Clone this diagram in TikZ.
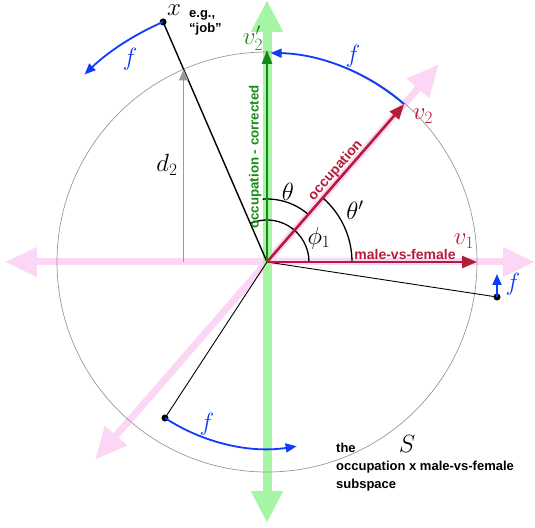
\documentclass[tikz,border=0pt]{standalone}
\usepackage{fontspec}
\newfontfamily\lab{Liberation Sans}
\usetikzlibrary{arrows.meta}
\definecolor{myred}{RGB}{180,28,58}
\definecolor{mygreen}{RGB}{20,140,20}
\definecolor{lgreen}{RGB}{165,245,165}
\definecolor{lpink}{RGB}{252,215,245}
\definecolor{myblue}{RGB}{15,60,250}
\begin{document}
\begin{tikzpicture}[x=1pt,y=1pt,
  pinkaxis/.style={draw=lpink,line width=7pt,arrows={Triangle[length=32pt,width=28pt,fill=lpink]-Triangle[length=32pt,width=28pt,fill=lpink]}},
  greenaxis/.style={draw=lgreen,line width=9pt,arrows={Triangle[length=32pt,width=30pt,fill=lgreen]-Triangle[length=32pt,width=30pt,fill=lgreen]}},
  redarrow/.style={draw=myred,line width=2.6pt,-{Triangle[length=15pt,width=12pt]}},
  greenarrow/.style={draw=mygreen,line width=2.6pt,-{Triangle[length=14pt,width=10pt]}},
  bluearrow/.style={draw=myblue,line width=1.8pt,-{Triangle[length=11pt,width=9pt]}},
  grayarrow/.style={draw=gray!80,line width=1.6pt,-{Triangle[length=11pt,width=9pt]}},
  anglearc/.style={draw=black,line width=1.3pt},
  dot/.style={circle,fill=black,inner sep=0pt,minimum size=7pt},
  mathlab/.style={font=\fontsize{23}{27}\selectfont,inner sep=0pt},
  sanslab/.style={font=\fontsize{13}{15}\selectfont\lab\bfseries,inner sep=0pt},
  vecname/.style={font=\fontsize{14}{16}\selectfont\lab\bfseries,inner sep=1.5pt,anchor=south},
]
\useasboundingbox (-267,-265) rectangle (268,262);
\coordinate (O) at (0,0);
% light axes
\coordinate (pL) at (-262,0);
\coordinate (pR) at (268,0);
\coordinate (dLL) at (229:262);
\coordinate (dUR) at (49:262);
\coordinate (gB) at (0,-261);
\coordinate (gT) at (0,262);
\draw[pinkaxis] (pL) -- (pR);
\draw[pinkaxis] (dLL) -- (dUR);
\draw[greenaxis] (gB) -- (gT);
% circle
\draw[gray!80,line width=0.7pt] (O) circle[radius=210];
% points
\node[dot] (x) at (113.4:261.6) {};
\node[dot] (p3) at (230,-35) {};
\node[dot] (p4) at (-102,-156) {};
\draw[black,line width=1.4pt] (O) -- (x.center);
\draw[black,line width=0.9pt] (O) -- (p3.center);
\draw[black,line width=0.9pt] (O) -- (p4.center);
% d2
\coordinate (xc) at (113.4:210);
\draw[grayarrow] (xc |- O) -- (xc);
\node[mathlab] (d2) at (-100,97) {$d_2$};
% angle arcs
\draw[anglearc] (42,0) arc[start angle=0,end angle=113.4,radius=42];
\draw[anglearc] (49:63) arc[start angle=49,end angle=94,radius=63];
\draw[anglearc] (85,0) arc[start angle=0,end angle=49,radius=85];
\node[mathlab] (th) at (21,70) {$\theta$};
\node[mathlab] (thp) at (88,52) {$\theta'$};
\node[mathlab] (ph) at (52,24) {$\phi_1$};
% red and green vectors
\coordinate (v1) at (210,0);
\coordinate (v2) at (49:209);
\coordinate (v2p) at (0,212);
\draw[greenarrow] (O) -- (v2p);
\draw[redarrow] (O) -- (v1);
\draw[redarrow] (O) -- (v2);
\node[mathlab,text=myred] (v1l) at (197,21) {$v_1$};
\node[mathlab,text=myred] (v2l) at (156,146) {$v_2$};
\node[mathlab,text=mygreen] (v2pl) at (-14,224) {$v_2'$};
\node[vecname,text=myred] (mvf) at (138,1) {male-vs-female};
\node[vecname,text=myred,rotate=49] (occ) at (49:114) {occupation};
\node[vecname,text=mygreen,rotate=90,font=\fontsize{13.3}{16}\selectfont\lab\bfseries] (occc) at (-4,105) {occupation - corrected};
% blue f arcs
\draw[bluearrow] (x.center) arc[start angle=113.4,end angle=134.2,radius=261.6];
\draw[bluearrow] (v2) arc[start angle=49,end angle=89,radius=209];
\draw[bluearrow] (p4.center) arc[start angle=236.8,end angle=279,radius=187];
\coordinate (p3t) at (230,-12);
\draw[bluearrow] (p3.center) -- (p3t);
\node[mathlab,text=myblue] (f1) at (-137,203) {$f$};
\node[mathlab,text=myblue] (f2) at (86,206) {$f$};
\node[mathlab,text=myblue] (f3) at (-60,-162) {$f$};
\node[mathlab,text=myblue] (f4) at (246,-22) {$f$};
% texts
\node[mathlab,anchor=base] (xl) at (-93,246) {$x$};
\node[sanslab,anchor=north west,align=left] (eg) at (-78,252) {e.g.,\\“job”};
\node[mathlab] (S) at (140,-182) {$S$};
\node[sanslab,anchor=north west,align=left,font=\fontsize{13}{18}\selectfont\lab\bfseries] (sub) at (69,-181) {the\\occupation x male-vs-female\\subspace};
\end{tikzpicture}
\end{document}
